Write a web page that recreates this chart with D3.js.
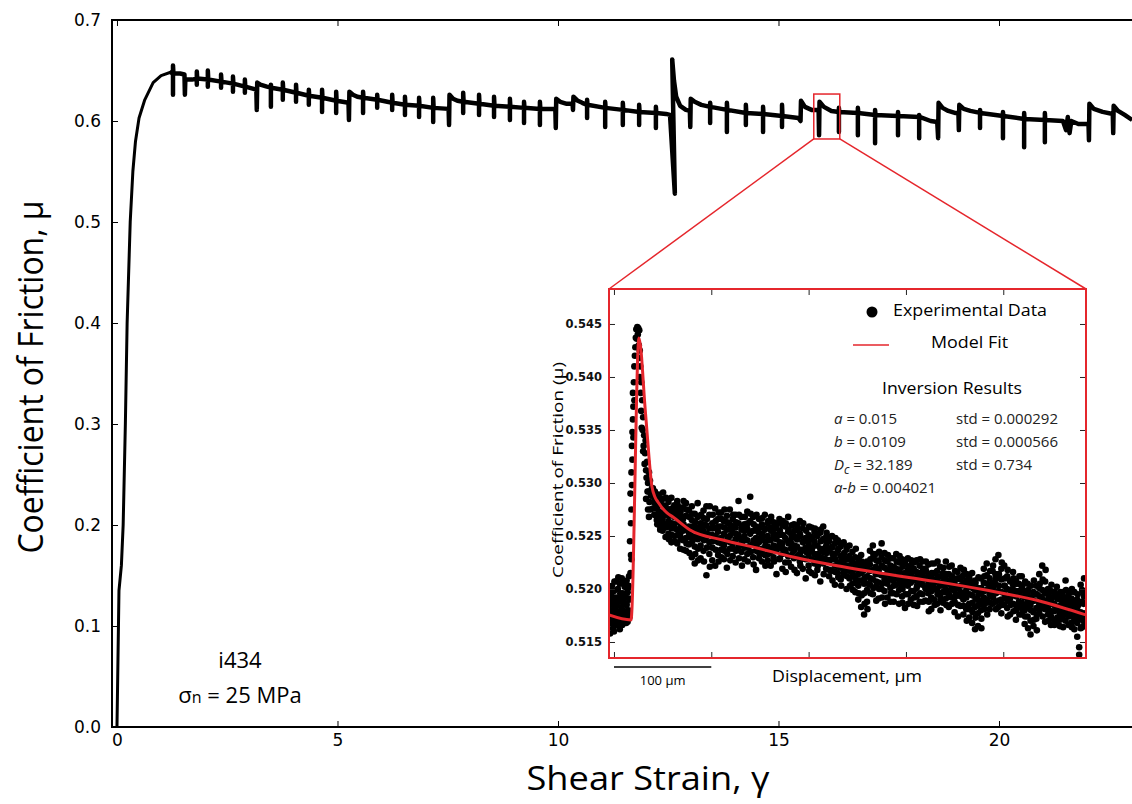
<!DOCTYPE html>
<html>
<head>
<meta charset="utf-8">
<script src="https://cdn.jsdelivr.net/npm/d3@7"></script>
<style>
  html, body { margin: 0; padding: 0; background: #fff; }
  svg { display: block; }
</style>
</head>
<body>
<svg id="chart" width="1132" height="804"></svg>
<script>
// ---------------- DATA ----------------
// Main chart: shear strain (gamma) vs coefficient of friction (mu)
const xTicksMain = [0, 5, 10, 15, 20];
const yTicksMain = [0.0, 0.1, 0.2, 0.3, 0.4, 0.5, 0.6, 0.7];

// initial loading ramp [gamma, mu]
const loadingCurve = [
  [0, 0.0], [0.01, 0.03], [0.045, 0.135], [0.1, 0.16], [0.14, 0.2], [0.19, 0.3],
  [0.23, 0.4], [0.3, 0.5], [0.36, 0.55], [0.42, 0.58], [0.5, 0.603], [0.63, 0.621],
  [0.82, 0.638], [1.0, 0.645], [1.2, 0.648]
];

// steady-state friction with velocity steps / holds [gamma, mu]
const steadyCurve = [
  [1.2,0.648],[1.27,0.648],[1.27,0.626],[1.27,0.655],[1.28,0.647],[1.43,0.647],
  [1.53,0.646],[1.54,0.626],[1.55,0.641],[1.7,0.641],
  [1.81,0.642],[1.81,0.636],[1.81,0.649],[1.82,0.642],
  [2.06,0.641],[2.06,0.634],[2.06,0.650],[2.07,0.641],
  [2.36,0.639],[2.36,0.633],[2.36,0.646],[2.37,0.639],
  [2.63,0.637],[2.63,0.629],[2.63,0.644],[2.64,0.637],
  [2.90,0.634],[2.90,0.628],[2.90,0.641],[2.91,0.634],
  [3.16,0.631],[3.17,0.611],[3.18,0.638],[3.25,0.636],[3.40,0.634],
  [3.49,0.633],[3.49,0.614],[3.49,0.636],[3.50,0.633],
  [3.76,0.631],[3.76,0.621],[3.76,0.638],[3.77,0.631],
  [4.06,0.628],[4.06,0.619],[4.06,0.636],[4.07,0.628],
  [4.35,0.625],[4.35,0.616],[4.35,0.631],[4.36,0.625],
  [4.65,0.623],[4.65,0.609],[4.65,0.631],[4.66,0.623],
  [4.97,0.620],[4.97,0.608],[4.97,0.629],[4.98,0.620],
  [5.25,0.618],[5.26,0.601],[5.27,0.629],[5.35,0.626],[5.45,0.624],
  [5.58,0.623],[5.58,0.608],[5.58,0.629],[5.59,0.623],
  [5.90,0.621],[5.90,0.613],[5.90,0.626],[5.91,0.621],
  [6.24,0.618],[6.24,0.611],[6.24,0.626],[6.25,0.618],
  [6.53,0.616],[6.53,0.606],[6.53,0.624],[6.54,0.616],
  [6.85,0.615],[6.85,0.604],[6.85,0.623],[6.86,0.615],
  [7.17,0.613],[7.17,0.599],[7.17,0.623],[7.18,0.613],
  [7.52,0.612],[7.53,0.596],[7.54,0.626],[7.62,0.622],[7.72,0.620],
  [7.85,0.619],[7.85,0.608],[7.85,0.628],[7.86,0.619],
  [8.21,0.617],[8.21,0.606],[8.21,0.626],[8.22,0.617],
  [8.55,0.615],[8.55,0.604],[8.55,0.624],[8.56,0.615],
  [8.91,0.614],[8.91,0.601],[8.91,0.622],[8.92,0.614],
  [9.23,0.613],[9.23,0.598],[9.23,0.619],[9.24,0.613],
  [9.59,0.612],[9.59,0.596],[9.59,0.619],[9.60,0.612],
  [9.94,0.612],[9.95,0.593],[9.96,0.622],[10.05,0.619],[10.2,0.617],
  [10.33,0.617],[10.34,0.611],[10.35,0.624],[10.45,0.620],[10.55,0.618],
  [10.66,0.616],[10.66,0.603],[10.66,0.621],[10.67,0.616],
  [11.07,0.613],[11.07,0.594],[11.07,0.619],[11.08,0.613],
  [11.47,0.611],[11.47,0.596],[11.47,0.618],[11.48,0.611],
  [11.84,0.609],[11.84,0.596],[11.84,0.616],[11.85,0.609],
  [12.22,0.608],[12.22,0.593],[12.22,0.614],[12.23,0.608],
  [12.45,0.607],
  [12.54,0.606],[12.65,0.528],[12.59,0.661],[12.63,0.640],[12.68,0.624],[12.77,0.615],[12.90,0.611],
  [12.99,0.610],[13.00,0.594],[13.01,0.622],[13.10,0.619],[13.25,0.616],
  [13.45,0.614],[13.45,0.598],[13.45,0.618],[13.46,0.614],
  [13.83,0.611],[13.83,0.589],[13.83,0.618],[13.84,0.611],
  [14.26,0.608],[14.26,0.596],[14.26,0.616],[14.27,0.608],
  [14.65,0.607],[14.65,0.589],[14.65,0.614],[14.66,0.607],
  [15.08,0.605],[15.08,0.594],[15.08,0.616],[15.09,0.605],
  [15.45,0.603],[15.50,0.600],[15.51,0.620],[15.60,0.614],[15.75,0.611],
  [15.91,0.611],[15.92,0.586],[15.93,0.619],[16.03,0.614],[16.2,0.610],
  [16.37,0.609],[16.37,0.589],[16.37,0.613],[16.38,0.609],
  [16.80,0.608],[16.80,0.586],[16.80,0.613],[16.81,0.608],
  [17.19,0.606],[17.19,0.578],[17.19,0.611],[17.20,0.606],
  [17.71,0.605],[17.71,0.586],[17.71,0.609],[17.72,0.605],
  [18.19,0.604],[18.19,0.583],[18.19,0.606],[18.20,0.604],
  [18.45,0.600],[18.60,0.599],
  [18.62,0.583],[18.63,0.618],[18.72,0.613],[18.85,0.610],[19.0,0.608],
  [19.08,0.608],[19.09,0.591],[19.10,0.616],[19.2,0.612],[19.35,0.610],
  [19.57,0.608],[19.57,0.593],[19.57,0.611],[19.58,0.608],
  [20.09,0.605],[20.09,0.583],[20.09,0.609],[20.10,0.605],
  [20.57,0.602],[20.57,0.574],[20.57,0.608],[20.58,0.602],
  [21.04,0.601],[21.04,0.579],[21.04,0.608],[21.05,0.601],
  [21.45,0.600],[21.52,0.591],[21.56,0.604],[21.60,0.588],[21.64,0.600],[21.80,0.597],
  [22.03,0.597],[22.04,0.581],[22.05,0.617],[22.15,0.612],[22.35,0.609],
  [22.58,0.607],[22.59,0.588],[22.60,0.615],[22.7,0.610],[22.85,0.606],[23.02,0.601]
];

// zoomed window on main chart [gamma0, gamma1, mu0, mu1]
const zoomWindow = [15.80, 16.39, 0.5822, 0.6267];

// Inset: displacement (um) vs friction
const yTicksInset = [0.515, 0.520, 0.525, 0.530, 0.535, 0.540, 0.545];
const xTicksInset = [0, 100, 200, 300, 400];

// model fit [displacement, mu]
const modelFit = [
  [-5.1,0.51755],[17.5,0.51708],[25.7,0.54368],[32.4,0.53660],[39.1,0.52962],[42.1,0.52868],
  [45.2,0.52821],[54.5,0.52717],[60.6,0.52679],[78.1,0.52557],[112,0.52462],[147,0.52387],
  [184,0.52302],[225,0.52226],[273,0.52151],[330,0.52072],[385,0.51985],[440,0.51880],[485,0.51755]
];

// experimental data, columns of [displacement, [mu values]]
const expColumns = [
  [-4,[0.5172,0.5185,0.5158]],[-3,[0.5195,0.5168]],[-2,[0.5178,0.5203]],[-1,[0.5163,0.5188]],
  [0,[0.5175,0.5198,0.5160]],[1,[0.5181,0.5166]],[2,[0.5192,0.5207]],[3,[0.5171,0.5184]],
  [4,[0.5200,0.5176]],[5,[0.5165,0.5189]],[6,[0.5179,0.5205,0.5162]],[7,[0.5194,0.5170]],
  [8,[0.5183,0.5210]],[9,[0.5174,0.5196]],[10,[0.5168,0.5188]],[11,[0.5202,0.5179]],
  [12,[0.5172,0.5193]],[13,[0.5185,0.5208]],[14,[0.5169,0.5197]],[15,[0.5180,0.5203]],
  [16,[0.5174,0.5190]],
  [16.5,[0.5245]],[17,[0.5215,0.5290]],[17.5,[0.5232,0.5262]],[18,[0.5228,0.5275,0.5310]],
  [18.5,[0.5298,0.5335]],[19,[0.5322,0.5348]],[19.5,[0.5360,0.5385]],[20,[0.5372,0.5343]],
  [20.5,[0.5395]],[21,[0.5410,0.5378]],[21.5,[0.5420]],[22,[0.5428]],[22.5,[0.5437]],
  [23,[0.5445]],[23.5,[0.5436]],[24,[0.5447]],[24.5,[0.5440]],[25,[0.5446]],[25.5,[0.5430]],
  [26,[0.5444,0.5418]],[26.5,[0.5425,0.5400]],[27,[0.5410]],[27.5,[0.5385]],[28,[0.5395,0.5368]],
  [29,[0.5378]],[29.5,[0.5350]],[30,[0.5362]],[30.5,[0.5335]],[31,[0.5345]],[31.5,[0.5318]],
  [32,[0.5328]],[32.5,[0.5340]],[33,[0.5312]],[33.5,[0.5305]],[34,[0.5320]],[34.5,[0.5292]],
  [35,[0.5300]],[35.5,[0.5292]],[36,[0.5310]],[36.5,[0.5282]],[37,[0.5302]],[38,[0.5288]],[39,[0.5295]],
  [40,[0.5288,0.5276,0.5295]],[42,[0.5281,0.5270,0.5292]],[44,[0.5265,0.5284,0.5278]],
  [46,[0.5273,0.5262,0.5289]],[48,[0.5280,0.5258,0.5268]],[50,[0.5272,0.5285,0.5255,0.5266]],
  [53,[0.5260,0.5278,0.5249,0.5270]],[56,[0.5282,0.5264,0.5252,0.5275]],[59,[0.5257,0.5271,0.5244,0.5286]],
  [62,[0.5268,0.5250,0.5279,0.5261]],[65,[0.5243,0.5275,0.5256,0.5283]],[68,[0.5262,0.5238,0.5270,0.5251]],
  [71,[0.5277,0.5255,0.5246,0.5266]],[74,[0.5248,0.5269,0.5236,0.5281]],[77,[0.5259,0.5242,0.5274,0.5253]],
  [80,[0.5230,0.5265,0.5250,0.5278]],[83,[0.5256,0.5240,0.5271,0.5224]],[86,[0.5268,0.5247,0.5258,0.5281]],
  [89,[0.5241,0.5262,0.5229,0.5252]],[92,[0.5274,0.5255,0.5236,0.5267]],[95,[0.5249,0.5213,0.5260,0.5278]],
  [98,[0.5233,0.5257,0.5270,0.5244]],[101,[0.5262,0.5239,0.5251,0.5227]],[104,[0.5276,0.5248,0.5222,0.5258]],
  [107,[0.5244,0.5266,0.5232,0.5254]],[110,[0.5259,0.5237,0.5272,0.5248]],[113,[0.5228,0.5252,0.5264,0.5241]],
  [116,[0.5269,0.5245,0.5256,0.5220]],[119,[0.5238,0.5261,0.5250,0.5275]],[122,[0.5253,0.5231,0.5266,0.5243]],
  [125,[0.5247,0.5270,0.5225,0.5258]],[128,[0.5262,0.5240,0.5251,0.5283]],[131,[0.5235,0.5256,0.5268,0.5244]],
  [134,[0.5250,0.5228,0.5261,0.5239]],[137,[0.5273,0.5246,0.5233,0.5257]],[140,[0.5241,0.5264,0.5252,0.5287]],
  [143,[0.5230,0.5255,0.5268,0.5243]],[146,[0.5259,0.5236,0.5248,0.5218]],[149,[0.5244,0.5266,0.5253,0.5229]],
  [152,[0.5238,0.5261,0.5226,0.5249]],[155,[0.5256,0.5232,0.5270,0.5245]],[158,[0.5227,0.5250,0.5240,0.5262]],
  [161,[0.5246,0.5222,0.5258,0.5235]],[164,[0.5263,0.5241,0.5230,0.5252]],[167,[0.5236,0.5257,0.5214,0.5247]],
  [170,[0.5251,0.5228,0.5266,0.5239]],[173,[0.5243,0.5260,0.5233,0.5219]],[176,[0.5225,0.5248,0.5237,0.5259]],
  [179,[0.5254,0.5231,0.5245,0.5268]],[182,[0.5238,0.5221,0.5252,0.5243]],[185,[0.5229,0.5250,0.5261,0.5236]],
  [188,[0.5247,0.5215,0.5240,0.5256]],[191,[0.5233,0.5252,0.5226,0.5264]],[194,[0.5244,0.5219,0.5257,0.5237]],
  [197,[0.5228,0.5248,0.5239,0.5210]],[200,[0.5251,0.5232,0.5222,0.5243]],[203,[0.5236,0.5258,0.5215,0.5247]],
  [206,[0.5224,0.5245,0.5233,0.5254]],[209,[0.5241,0.5218,0.5250,0.5229]],[212,[0.5230,0.5253,0.5238,0.5207]],
  [215,[0.5247,0.5224,0.5235,0.5259]],[218,[0.5219,0.5240,0.5228,0.5249]],[221,[0.5236,0.5212,0.5245,0.5226]],
  [224,[0.5228,0.5250,0.5217,0.5239]],[227,[0.5243,0.5222,0.5233,0.5204]],[230,[0.5215,0.5236,0.5246,0.5225]],
  [233,[0.5231,0.5209,0.5240,0.5220]],[236,[0.5222,0.5244,0.5213,0.5232]],[239,[0.5237,0.5218,0.5200,0.5228]],
  [242,[0.5210,0.5231,0.5222,0.5241]],[245,[0.5226,0.5205,0.5216,0.5235]],[248,[0.5197,0.5219,0.5230,0.5210]],
  [251,[0.5214,0.5190,0.5225,0.5203]],[254,[0.5221,0.5208,0.5183,0.5232]],[257,[0.5205,0.5196,0.5218,0.5176]],
  [260,[0.5226,0.5212,0.5199,0.5188]],[263,[0.5217,0.5236,0.5204,0.5223]],[266,[0.5209,0.5229,0.5195,0.5241]],
  [269,[0.5221,0.5202,0.5233,0.5214]],[272,[0.5206,0.5226,0.5191,0.5218]],[275,[0.5230,0.5213,0.5200,0.5243]],
  [278,[0.5198,0.5220,0.5209,0.5234]],[281,[0.5215,0.5192,0.5226,0.5205]],[284,[0.5222,0.5201,0.5212,0.5188]],
  [287,[0.5208,0.5229,0.5196,0.5217]],[290,[0.5219,0.5204,0.5233,0.5212]],[293,[0.5199,0.5216,0.5186,0.5225]],
  [296,[0.5211,0.5228,0.5203,0.5193]],[299,[0.5224,0.5207,0.5215,0.5182]],[302,[0.5203,0.5218,0.5195,0.5229]],
  [305,[0.5213,0.5190,0.5222,0.5206]],[308,[0.5198,0.5219,0.5209,0.5185]],[311,[0.5216,0.5201,0.5227,0.5193]],
  [314,[0.5207,0.5222,0.5188,0.5212]],[317,[0.5195,0.5214,0.5204,0.5226]],[320,[0.5210,0.5189,0.5219,0.5201]],
  [323,[0.5223,0.5205,0.5196,0.5213]],[326,[0.5192,0.5211,0.5202,0.5181]],[329,[0.5206,0.5224,0.5190,0.5215]],
  [332,[0.5199,0.5217,0.5208,0.5186]],[335,[0.5212,0.5194,0.5221,0.5203]],[338,[0.5187,0.5206,0.5215,0.5197]],
  [341,[0.5209,0.5191,0.5200,0.5226]],[344,[0.5196,0.5214,0.5183,0.5205]],[347,[0.5203,0.5222,0.5192,0.5211]],
  [350,[0.5188,0.5207,0.5198,0.5178]],[353,[0.5210,0.5194,0.5216,0.5201]],[356,[0.5197,0.5184,0.5209,0.5220]],
  [359,[0.5205,0.5190,0.5213,0.5176]],[362,[0.5192,0.5208,0.5181,0.5199]],[365,[0.5211,0.5186,0.5202,0.5173]],
  [368,[0.5194,0.5205,0.5168,0.5215]],[371,[0.5183,0.5199,0.5162,0.5208]],[374,[0.5201,0.5177,0.5190,0.5165]],
  [377,[0.5188,0.5210,0.5180,0.5196]],[380,[0.5206,0.5192,0.5219,0.5185]],[383,[0.5199,0.5213,0.5187,0.5224]],
  [386,[0.5210,0.5195,0.5203,0.5181]],[389,[0.5193,0.5217,0.5186,0.5206]],[392,[0.5205,0.5188,0.5228,0.5214]],
  [395,[0.5198,0.5211,0.5183,0.5232]],[398,[0.5209,0.5190,0.5219,0.5177]],[401,[0.5185,0.5203,0.5196,0.5222]],
  [404,[0.5200,0.5182,0.5212,0.5191]],[407,[0.5191,0.5207,0.5176,0.5199]],[410,[0.5204,0.5186,0.5194,0.5216]],
  [413,[0.5180,0.5198,0.5171,0.5208]],[416,[0.5195,0.5183,0.5205,0.5188]],[419,[0.5187,0.5201,0.5176,0.5212]],
  [422,[0.5198,0.5180,0.5192,0.5167]],[425,[0.5183,0.5196,0.5174,0.5205]],[428,[0.5192,0.5170,0.5185,0.5157]],
  [431,[0.5178,0.5197,0.5165,0.5189]],[434,[0.5195,0.5182,0.5203,0.5172]],[437,[0.5186,0.5201,0.5177,0.5214]],
  [440,[0.5199,0.5184,0.5222,0.5191]],[443,[0.5181,0.5196,0.5169,0.5207]],[446,[0.5190,0.5176,0.5200,0.5184]],
  [449,[0.5174,0.5188,0.5166,0.5198]],[452,[0.5185,0.5171,0.5193,0.5179]],[455,[0.5194,0.5180,0.5168,0.5202]],
  [458,[0.5177,0.5190,0.5184,0.5165]],[461,[0.5188,0.5173,0.5197,0.5181]],[464,[0.5170,0.5186,0.5178,0.5208]],
  [467,[0.5183,0.5166,0.5192,0.5175]],[470,[0.5191,0.5177,0.5168,0.5186]],[473,[0.5172,0.5185,0.5162,0.5197]],
  [476,[0.5180,0.5155,0.5190,0.5168]],[478,[0.5145,0.5138,0.5174,0.5186]],[481,[0.5188,0.5171,0.5199,0.5164]],
  [483,[0.5177,0.5193,0.5169,0.5210]]
];

// further experimental samples between the columns above
const expColumnsB = [
  [-3.5,[0.5180,0.5200]],[-1.5,[0.5170,0.5192]],[0.5,[0.5185,0.5207]],[2.5,[0.5167,0.5178]],
  [4.5,[0.5188,0.5211]],[6.5,[0.5173,0.5196]],[8.5,[0.5166,0.5190]],[10.5,[0.5179,0.5205]],
  [12.5,[0.5186,0.5168]],[14.5,[0.5175,0.5201]],[15.5,[0.5191,0.5212]],
  [28.5,[0.5352]],[30,[0.5330]],[33,[0.5285]],[35,[0.5275]],[36,[0.5268]],[37.5,[0.5275]],
  [41.5,[0.5283,0.5270,0.5291]],[44.5,[0.5276,0.5261,0.5287]],[47.5,[0.5269,0.5284,0.5256]],
  [50.5,[0.5279,0.5262,0.5291]],[53.5,[0.5258,0.5273,0.5286]],[56.5,[0.5269,0.5247,0.5259]],
  [59.5,[0.5276,0.5262,0.5251]],[62.5,[0.5245,0.5272,0.5257]],[65.5,[0.5266,0.5251,0.5279]],
  [68.5,[0.5247,0.5273,0.5258]],[71.5,[0.5261,0.5237,0.5283]],[74.5,[0.5256,0.5275,0.5243]],
  [77.5,[0.5268,0.5234,0.5249]],[80.5,[0.5245,0.5259,0.5271]],[83.5,[0.5263,0.5233,0.5249]],
  [86.5,[0.5238,0.5254,0.5227]],[89.5,[0.5270,0.5248,0.5257]],[92.5,[0.5246,0.5226,0.5261]],
  [95.5,[0.5266,0.5239,0.5252]],[98.5,[0.5251,0.5278,0.5221]],[101.5,[0.5245,0.5270,0.5257]],
  [104.5,[0.5237,0.5264,0.5250]],[107.5,[0.5272,0.5226,0.5259]],[110.5,[0.5243,0.5266,0.5230]],
  [113.5,[0.5258,0.5236,0.5275]],[116.5,[0.5249,0.5263,0.5233]],[119.5,[0.5227,0.5256,0.5244]],
  [122.5,[0.5270,0.5238,0.5259]],[125.5,[0.5236,0.5252,0.5263]],[128.5,[0.5248,0.5229,0.5270]],
  [131.5,[0.5259,0.5242,0.5222]],[134.5,[0.5268,0.5246,0.5255]],[137.5,[0.5239,0.5262,0.5226]],
  [140.5,[0.5254,0.5235,0.5271]],[143.5,[0.5246,0.5261,0.5223]],[146.5,[0.5270,0.5241,0.5255]],
  [149.5,[0.5233,0.5258,0.5247]],[152.5,[0.5252,0.5267,0.5236]],[155.5,[0.5241,0.5222,0.5257]],
  [158.5,[0.5264,0.5246,0.5233]],[161.5,[0.5237,0.5255,0.5268]],[164.5,[0.5249,0.5226,0.5258]],
  [167.5,[0.5262,0.5240,0.5251]],[170.5,[0.5229,0.5255,0.5244]],[173.5,[0.5251,0.5238,0.5264]],
  [176.5,[0.5234,0.5262,0.5216]],[179.5,[0.5243,0.5225,0.5256]],[182.5,[0.5260,0.5232,0.5248]],
  [185.5,[0.5241,0.5255,0.5218]],[188.5,[0.5231,0.5260,0.5247]],[191.5,[0.5250,0.5237,0.5222]],
  [194.5,[0.5229,0.5262,0.5245]],[197.5,[0.5255,0.5235,0.5247]],[200.5,[0.5240,0.5259,0.5217]],
  [203.5,[0.5228,0.5249,0.5238]],[206.5,[0.5257,0.5213,0.5241]],[209.5,[0.5233,0.5252,0.5222]],
  [212.5,[0.5245,0.5226,0.5256]],[215.5,[0.5214,0.5238,0.5229]],[218.5,[0.5253,0.5234,0.5243]],
  [221.5,[0.5227,0.5249,0.5218]],[224.5,[0.5240,0.5208,0.5233]],[227.5,[0.5216,0.5248,0.5228]],
  [230.5,[0.5238,0.5221,0.5211]],[233.5,[0.5226,0.5243,0.5203]],[236.5,[0.5234,0.5216,0.5227]],
  [239.5,[0.5212,0.5240,0.5222]],[242.5,[0.5228,0.5203,0.5217]],[245.5,[0.5199,0.5224,0.5213]],
  [248.5,[0.5221,0.5206,0.5238]],[251.5,[0.5208,0.5228,0.5196]],[254.5,[0.5215,0.5194,0.5226]],
  [257.5,[0.5210,0.5186,0.5223]],[260.5,[0.5205,0.5219,0.5181]],[263.5,[0.5228,0.5210,0.5196]],
  [266.5,[0.5218,0.5201,0.5233]],[269.5,[0.5207,0.5227,0.5189]],[272.5,[0.5214,0.5235,0.5200]],
  [275.5,[0.5222,0.5205,0.5192]],[278.5,[0.5213,0.5227,0.5186]],[281.5,[0.5232,0.5208,0.5218]],
  [284.5,[0.5196,0.5216,0.5229]],[287.5,[0.5221,0.5203,0.5188]],[290.5,[0.5210,0.5226,0.5195]],
  [293.5,[0.5218,0.5207,0.5231]],[296.5,[0.5200,0.5221,0.5187]],[299.5,[0.5212,0.5195,0.5227]],
  [302.5,[0.5221,0.5208,0.5186]],[305.5,[0.5198,0.5215,0.5227]],[308.5,[0.5208,0.5225,0.5192]],
  [311.5,[0.5203,0.5184,0.5212]],[314.5,[0.5196,0.5215,0.5228]],[317.5,[0.5209,0.5188,0.5219]],
  [320.5,[0.5217,0.5200,0.5226]],[323.5,[0.5188,0.5209,0.5179]],[326.5,[0.5215,0.5198,0.5224]],
  [329.5,[0.5201,0.5185,0.5209]],[332.5,[0.5211,0.5226,0.5195]],[335.5,[0.5190,0.5206,0.5180]],
  [338.5,[0.5220,0.5203,0.5211]],[341.5,[0.5197,0.5214,0.5185]],[344.5,[0.5208,0.5193,0.5221]],
  [347.5,[0.5186,0.5200,0.5212]],[350.5,[0.5203,0.5217,0.5193]],[353.5,[0.5185,0.5202,0.5174]],
  [356.5,[0.5211,0.5193,0.5203]],[359.5,[0.5196,0.5218,0.5184]],[362.5,[0.5204,0.5170,0.5214]],
  [365.5,[0.5195,0.5181,0.5208]],[368.5,[0.5187,0.5201,0.5178]],[371.5,[0.5206,0.5191,0.5173]],
  [374.5,[0.5195,0.5185,0.5211]],[377.5,[0.5172,0.5201,0.5163]],[380.5,[0.5198,0.5212,0.5181]],
  [383.5,[0.5190,0.5205,0.5176]],[386.5,[0.5217,0.5198,0.5187]],[389.5,[0.5201,0.5222,0.5192]],
  [392.5,[0.5196,0.5210,0.5181]],[395.5,[0.5214,0.5189,0.5203]],[398.5,[0.5197,0.5225,0.5185]],
  [401.5,[0.5210,0.5191,0.5203]],[404.5,[0.5189,0.5218,0.5174]],[407.5,[0.5208,0.5195,0.5185]],
  [410.5,[0.5179,0.5199,0.5210]],[413.5,[0.5193,0.5205,0.5184]],[416.5,[0.5176,0.5198,0.5212]],
  [419.5,[0.5193,0.5181,0.5203]],[422.5,[0.5185,0.5207,0.5174]],[425.5,[0.5199,0.5188,0.5163]],
  [428.5,[0.5180,0.5203,0.5192]],[431.5,[0.5189,0.5171,0.5208]],[434.5,[0.5176,0.5195,0.5161]],
  [437.5,[0.5193,0.5181,0.5205]],[440.5,[0.5183,0.5209,0.5174]],[443.5,[0.5198,0.5187,0.5218]],
  [446.5,[0.5170,0.5194,0.5180]],[449.5,[0.5191,0.5179,0.5204]],[452.5,[0.5166,0.5186,0.5197]],
  [455.5,[0.5183,0.5173,0.5191]],[458.5,[0.5197,0.5180,0.5171]],[461.5,[0.5176,0.5193,0.5164]],
  [464.5,[0.5189,0.5199,0.5181]],[467.5,[0.5174,0.5187,0.5196]],[470.5,[0.5182,0.5164,0.5200]],
  [473.5,[0.5189,0.5177,0.5170]],[476.5,[0.5171,0.5195,0.5184]],[479.5,[0.5178,0.5163,0.5204]],
  [482.5,[0.5186,0.5174,0.5197]]
];

const inversionRows = [
  { name: "a", sub: "", value: "0.015", std: "0.000292" },
  { name: "b", sub: "", value: "0.0109", std: "0.000566" },
  { name: "D", sub: "c", value: "32.189", std: "0.734" },
  { name: "a-b", sub: "", value: "0.004021", std: null }
];

// ---------------- DRAWING ----------------
const RED = "#e5262c";
const svg = d3.select("#chart");
const W = 1132, H = 804;
svg.append("rect").attr("width", W).attr("height", H).attr("fill", "#fff");

const plot = { left: 112, right: 1132, top: 20, bottom: 727 };
const x = d3.scaleLinear().domain([-0.113, 23.016]).range([plot.left, plot.right]);
const y = d3.scaleLinear().domain([0, 0.7]).range([plot.bottom, plot.top]);

const defs = svg.append("defs");
defs.append("clipPath").attr("id", "mainClip")
  .append("rect").attr("x", plot.left).attr("y", plot.top)
  .attr("width", plot.right - plot.left).attr("height", plot.bottom - plot.top);

const tickFont = "'DejaVu Sans', sans-serif";
const titleFont = "'Open Sans', 'Noto Sans', sans-serif";

// axes (inward ticks)
const gx = svg.append("g").attr("transform", `translate(0,${plot.bottom})`)
  .call(d3.axisBottom(x).tickValues(xTicksMain).tickFormat(d3.format("d"))
    .tickSizeInner(-6).tickSizeOuter(0).tickPadding(7));
const gxTop = svg.append("g").attr("transform", `translate(0,${plot.top})`)
  .call(d3.axisTop(x).tickValues(xTicksMain).tickFormat("")
    .tickSizeInner(-6).tickSizeOuter(0));
const gy = svg.append("g").attr("transform", `translate(${plot.left},0)`)
  .call(d3.axisLeft(y).tickValues(yTicksMain).tickFormat(d3.format(".1f"))
    .tickSizeInner(-6).tickSizeOuter(0).tickPadding(11));
[gx, gxTop, gy].forEach(g => {
  g.select(".domain").remove();
  g.selectAll("line").attr("stroke", "#000").attr("stroke-width", 1);
  g.selectAll("text").attr("font-family", tickFont).attr("font-size", 17).attr("fill", "#000");
});

// spines
svg.append("path")
  .attr("d", `M${plot.right},${plot.top}H${plot.left}V${plot.bottom}H${plot.right}`)
  .attr("fill", "none").attr("stroke", "#000").attr("stroke-width", 2);

// main curves
const lineMain = d3.line().x(d => x(d[0])).y(d => y(d[1]));
const gMain = svg.append("g").attr("clip-path", "url(#mainClip)");
gMain.append("path").datum(loadingCurve).attr("d", lineMain)
  .attr("fill", "none").attr("stroke", "#000").attr("stroke-width", 3)
  .attr("stroke-linejoin", "round").attr("stroke-linecap", "round");
gMain.append("path").datum(steadyCurve).attr("d", lineMain)
  .attr("fill", "none").attr("stroke", "#000").attr("stroke-width", 4.5)
  .attr("stroke-linejoin", "round").attr("stroke-linecap", "butt");

// axis titles
svg.append("text").attr("x", 648).attr("y", 790).attr("text-anchor", "middle")
  .attr("font-family", titleFont).attr("font-size", 33)
  .attr("textLength", 243).attr("lengthAdjust", "spacingAndGlyphs")
  .text("Shear Strain, γ");
svg.append("text").attr("transform", "translate(43,377) rotate(-90)")
  .attr("text-anchor", "middle").attr("font-family", titleFont).attr("font-size", 34)
  .attr("textLength", 353).attr("lengthAdjust", "spacingAndGlyphs")
  .text("Coefficient of Friction, μ");

// annotation
svg.append("text").attr("x", 240).attr("y", 668).attr("text-anchor", "middle")
  .attr("font-family", titleFont).attr("font-size", 22).text("i434");
const sig = svg.append("text").attr("x", 240).attr("y", 703).attr("text-anchor", "middle")
  .attr("font-family", titleFont).attr("font-size", 22);
sig.append("tspan").text("σ");
sig.append("tspan").attr("font-size", 16).text("n");
sig.append("tspan").text(" = 25 MPa");

// zoom window on main chart
const zx0 = x(zoomWindow[0]), zx1 = x(zoomWindow[1]);
const zy0 = y(zoomWindow[3]), zy1 = y(zoomWindow[2]);
svg.append("rect").attr("x", zx0).attr("y", zy0).attr("width", zx1 - zx0).attr("height", zy1 - zy0)
  .attr("fill", "none").attr("stroke", RED).attr("stroke-width", 1.5);

// ---------- inset ----------
const inset = { left: 609, right: 1086, top: 289, bottom: 658 };
const ix = d3.scaleLinear().domain([-5.1, 485]).range([inset.left, inset.right]);
const iy = d3.scaleLinear().domain([0.51349, 0.54830]).range([inset.bottom, inset.top]);

svg.append("line").attr("x1", zx0).attr("y1", zy1).attr("x2", inset.left).attr("y2", inset.top)
  .attr("stroke", RED).attr("stroke-width", 1.5);
svg.append("line").attr("x1", zx1).attr("y1", zy1).attr("x2", inset.right).attr("y2", inset.top)
  .attr("stroke", RED).attr("stroke-width", 1.5);

svg.append("rect").attr("x", inset.left).attr("y", inset.top)
  .attr("width", inset.right - inset.left).attr("height", inset.bottom - inset.top)
  .attr("fill", "#fff");

defs.append("clipPath").attr("id", "insetClip")
  .append("rect").attr("x", inset.left).attr("y", inset.top)
  .attr("width", inset.right - inset.left).attr("height", inset.bottom - inset.top);

const expPoints = expColumns.concat(expColumnsB).flatMap(([d, mus]) => mus.map(m => [d, m]));
const gIn = svg.append("g").attr("clip-path", "url(#insetClip)");
gIn.selectAll("circle").data(expPoints).join("circle")
  .attr("cx", d => ix(d[0])).attr("cy", d => iy(d[1])).attr("r", 3.3).attr("fill", "#000");
gIn.append("path").datum(modelFit)
  .attr("d", d3.line().x(d => ix(d[0])).y(d => iy(d[1])).curve(d3.curveMonotoneX))
  .attr("fill", "none").attr("stroke", RED).attr("stroke-width", 3);

// inset axes
const inAxes = [
  svg.append("g").attr("transform", `translate(${inset.left},0)`)
    .call(d3.axisLeft(iy).tickValues(yTicksInset).tickFormat(d3.format(".3f"))
      .tickSizeInner(-6).tickSizeOuter(0).tickPadding(7)),
  svg.append("g").attr("transform", `translate(${inset.right},0)`)
    .call(d3.axisRight(iy).tickValues(yTicksInset).tickFormat("").tickSizeInner(-6).tickSizeOuter(0)),
  svg.append("g").attr("transform", `translate(0,${inset.bottom})`)
    .call(d3.axisBottom(ix).tickValues(xTicksInset).tickFormat("").tickSizeInner(-6).tickSizeOuter(0)),
  svg.append("g").attr("transform", `translate(0,${inset.top})`)
    .call(d3.axisTop(ix).tickValues(xTicksInset).tickFormat("").tickSizeInner(-6).tickSizeOuter(0))
];
inAxes.forEach(g => {
  g.select(".domain").remove();
  g.selectAll("line").attr("stroke", "#222").attr("stroke-width", 1);
  g.selectAll("text").attr("font-family", tickFont).attr("font-size", 11.5)
    .attr("font-weight", "bold").attr("fill", "#111");
});

svg.append("rect").attr("x", inset.left).attr("y", inset.top)
  .attr("width", inset.right - inset.left).attr("height", inset.bottom - inset.top)
  .attr("fill", "none").attr("stroke", RED).attr("stroke-width", 2);

// inset labels
svg.append("text").attr("transform", "translate(563,470) rotate(-90)")
  .attr("text-anchor", "middle").attr("font-family", titleFont).attr("font-size", 15)
  .attr("textLength", 216).attr("lengthAdjust", "spacingAndGlyphs")
  .text("Coefficient of Friction (μ)");
svg.append("text").attr("x", 847).attr("y", 682).attr("text-anchor", "middle")
  .attr("font-family", titleFont).attr("font-size", 17)
  .attr("textLength", 150).attr("lengthAdjust", "spacingAndGlyphs")
  .text("Displacement, μm");

// scale bar (100 um)
svg.append("line").attr("x1", ix(0)).attr("x2", ix(100)).attr("y1", 667).attr("y2", 667)
  .attr("stroke", "#000").attr("stroke-width", 1.6);
svg.append("text").attr("x", (ix(0) + ix(100)) / 2).attr("y", 685).attr("text-anchor", "middle")
  .attr("font-family", titleFont).attr("font-size", 13).text("100 μm");

// legend
svg.append("circle").attr("cx", 872).attr("cy", 312).attr("r", 5.5).attr("fill", "#000");
svg.append("text").attr("x", 893).attr("y", 316).attr("font-family", titleFont).attr("font-size", 16)
  .attr("textLength", 154).attr("lengthAdjust", "spacingAndGlyphs").text("Experimental Data");
svg.append("line").attr("x1", 853).attr("x2", 889).attr("y1", 345).attr("y2", 345)
  .attr("stroke", RED).attr("stroke-width", 1.5);
svg.append("text").attr("x", 931).attr("y", 348).attr("font-family", titleFont).attr("font-size", 16)
  .attr("textLength", 77).attr("lengthAdjust", "spacingAndGlyphs").text("Model Fit");

svg.append("text").attr("x", 952).attr("y", 394).attr("text-anchor", "middle")
  .attr("font-family", titleFont).attr("font-size", 17)
  .attr("textLength", 140).attr("lengthAdjust", "spacingAndGlyphs").text("Inversion Results");

const rowY = [424, 447, 470, 493];
inversionRows.forEach((r, i) => {
  const t = svg.append("text").attr("x", 834).attr("y", rowY[i])
    .attr("font-family", titleFont).attr("font-size", 15).attr("fill", "#222");
  t.append("tspan").attr("font-style", "italic").text(r.name);
  if (r.sub) {
    t.append("tspan").attr("font-style", "italic").attr("font-size", 12).attr("dy", 4).text(r.sub);
    t.append("tspan").attr("dy", -4).text(" = " + r.value);
  } else {
    t.append("tspan").text(" = " + r.value);
  }
  if (r.std) {
    svg.append("text").attr("x", 956).attr("y", rowY[i])
      .attr("font-family", titleFont).attr("font-size", 15).attr("fill", "#222")
      .attr("textLength", r.std.length === 8 ? 102 : 76).attr("lengthAdjust", "spacingAndGlyphs")
      .text("std = " + r.std);
  }
});
</script>
</body>
</html>
